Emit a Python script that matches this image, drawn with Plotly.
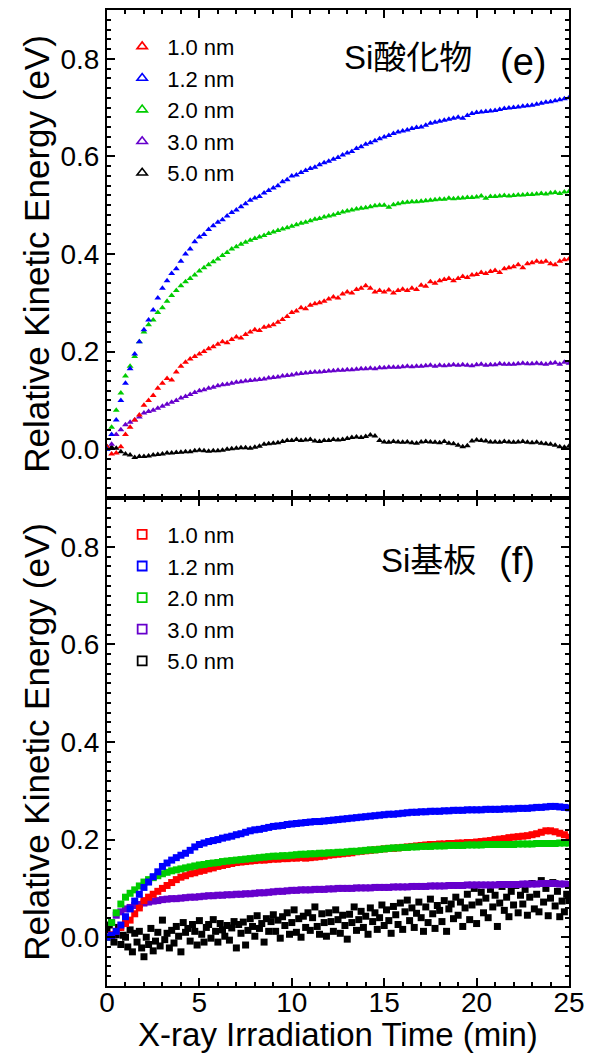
import numpy as np
import plotly.graph_objects as go
from plotly.subplots import make_subplots

# ---------------- data ----------------
labels = ["1.0 nm", "1.2 nm", "2.0 nm", "3.0 nm", "5.0 nm"]
colors = ["#ff0000", "#0000ff", "#00cc00", "#6600cc", "#000000"]

# acquisition grid (min)
time_grid = np.arange(0, 25.001, 0.25)
time_grid_fine = np.arange(0, 25.001, 0.125)

# ---- (e) Si oxide ----
ox_10 = [0.005, -0.01, -0.008, 0.005, 0.03, 0.045, 0.06, 0.07, 0.09, 0.1, 0.11, 0.125,
         0.135, 0.145, 0.142, 0.158, 0.17, 0.178, 0.185, 0.19, 0.195, 0.2, 0.206, 0.21,
         0.215, 0.22, 0.218, 0.225, 0.23, 0.228, 0.235, 0.24, 0.245, 0.243, 0.25, 0.252,
         0.255, 0.26, 0.266, 0.272, 0.28, 0.283, 0.29, 0.288, 0.295, 0.298, 0.3, 0.303,
         0.308, 0.312, 0.31, 0.318, 0.322, 0.32, 0.327, 0.33, 0.335, 0.33, 0.322, 0.325,
         0.322, 0.326, 0.32, 0.325, 0.328, 0.325, 0.33, 0.327, 0.336, 0.334, 0.343, 0.34,
         0.345, 0.348, 0.35, 0.345, 0.35, 0.354, 0.352, 0.357, 0.358, 0.362, 0.36, 0.364,
         0.366, 0.362, 0.37, 0.372, 0.374, 0.378, 0.372, 0.38, 0.382, 0.385, 0.383, 0.385,
         0.38, 0.378, 0.385, 0.388, 0.39]
ox_12 = [0.0, 0.03, 0.06, 0.10, 0.135, 0.165, 0.195, 0.22, 0.245, 0.265, 0.285, 0.31,
         0.33, 0.345, 0.36, 0.37, 0.385, 0.40, 0.41, 0.425, 0.435, 0.44, 0.45, 0.458,
         0.465, 0.47, 0.478, 0.485, 0.49, 0.497, 0.503, 0.51, 0.515, 0.518, 0.525, 0.53,
         0.535, 0.54, 0.548, 0.552, 0.56, 0.562, 0.567, 0.571, 0.575, 0.578, 0.583, 0.587,
         0.59, 0.594, 0.598, 0.603, 0.607, 0.61, 0.616, 0.62, 0.625, 0.628, 0.632, 0.636,
         0.64, 0.643, 0.647, 0.65, 0.652, 0.654, 0.657, 0.659, 0.66, 0.664, 0.668, 0.67,
         0.672, 0.674, 0.676, 0.678, 0.68, 0.678, 0.684, 0.688, 0.69, 0.691, 0.692, 0.693,
         0.694, 0.696, 0.698, 0.699, 0.70, 0.701, 0.703, 0.704, 0.705, 0.707, 0.709, 0.711,
         0.712, 0.714, 0.716, 0.718, 0.72]
ox_20 = [0.0, 0.045, 0.08, 0.115, 0.15, 0.17, 0.19, 0.22, 0.24, 0.255, 0.265, 0.28,
         0.29, 0.303, 0.315, 0.325, 0.335, 0.343, 0.35, 0.357, 0.365, 0.372, 0.378, 0.384,
         0.39, 0.397, 0.403, 0.41, 0.415, 0.42, 0.424, 0.428, 0.432, 0.435, 0.438, 0.442,
         0.445, 0.448, 0.451, 0.454, 0.457, 0.46, 0.463, 0.465, 0.468, 0.471, 0.473, 0.476,
         0.478, 0.48, 0.483, 0.486, 0.488, 0.49, 0.492, 0.494, 0.495, 0.497, 0.499, 0.5,
         0.50, 0.496, 0.501, 0.503, 0.505, 0.506, 0.507, 0.507, 0.508, 0.509, 0.51, 0.511,
         0.512, 0.512, 0.514, 0.513, 0.514, 0.515, 0.516, 0.516, 0.517, 0.519, 0.514, 0.518,
         0.518, 0.519, 0.52, 0.519, 0.52, 0.521, 0.521, 0.522, 0.522, 0.523, 0.524, 0.523,
         0.525, 0.526, 0.524, 0.527, 0.528]
ox_30 = [0.0, 0.01, 0.03, 0.04, 0.05, 0.055, 0.06, 0.066, 0.074, 0.077, 0.08, 0.084,
         0.088, 0.092, 0.096, 0.1, 0.105, 0.108, 0.112, 0.116, 0.12, 0.122, 0.125, 0.127,
         0.13, 0.132, 0.133, 0.135, 0.137, 0.138, 0.14, 0.141, 0.142, 0.143, 0.144, 0.146,
         0.147, 0.148, 0.15, 0.151, 0.152, 0.154, 0.155, 0.156, 0.157, 0.158, 0.158, 0.159,
         0.16, 0.161, 0.162, 0.162, 0.163, 0.163, 0.164, 0.165, 0.165, 0.166, 0.165, 0.167,
         0.167, 0.168, 0.168, 0.168, 0.169, 0.17, 0.169, 0.17, 0.17, 0.171, 0.172, 0.17,
         0.172, 0.171, 0.172, 0.173, 0.172, 0.173, 0.172, 0.171, 0.173, 0.174, 0.172, 0.173,
         0.173, 0.175, 0.174, 0.174, 0.174, 0.175, 0.176, 0.175, 0.175, 0.176, 0.175, 0.174,
         0.176, 0.177, 0.174, 0.178, 0.176]
ox_50 = [0.005, 0.004, 0.002, -0.005, -0.01, -0.012, -0.017, -0.015, -0.015, -0.014, -0.012, -0.011,
         -0.01, -0.008, -0.008, -0.007, -0.006, -0.005, -0.005, -0.003, -0.002, -0.003, -0.004, -0.003,
         -0.003, -0.002, 0.0, 0.001, 0.002, 0.003, 0.003, 0.002, 0.004, 0.006, 0.01, 0.011,
         0.012, 0.013, 0.016, 0.018, 0.018, 0.02, 0.018, 0.019, 0.02, 0.017, 0.016, 0.018,
         0.018, 0.02, 0.019, 0.02, 0.022, 0.024, 0.025, 0.024, 0.026, 0.029, 0.027, 0.018,
         0.015, 0.014, 0.016, 0.015, 0.014, 0.015, 0.013, 0.012, 0.015, 0.016, 0.015, 0.014,
         0.013, 0.016, 0.012, 0.011, 0.008, 0.005, 0.007, 0.017, 0.019, 0.018, 0.017, 0.015,
         0.015, 0.014, 0.016, 0.015, 0.014, 0.015, 0.016, 0.014, 0.013, 0.014, 0.012, 0.011,
         0.01, 0.008, 0.005, 0.004, 0.006]

# ---- (f) Si substrate ----
sub_10 = [0.0, 0.005, 0.012, 0.02, 0.028, 0.035, 0.048, 0.06, 0.075, 0.082, 0.088, 0.094,
          0.1, 0.106, 0.112, 0.118, 0.123, 0.126, 0.13, 0.132, 0.135, 0.137, 0.14, 0.142,
          0.145, 0.147, 0.149, 0.151, 0.153, 0.154, 0.155, 0.156, 0.157, 0.158, 0.158, 0.159,
          0.16, 0.16, 0.161, 0.161, 0.162, 0.162, 0.163, 0.162, 0.163, 0.164, 0.165, 0.166,
          0.168, 0.169, 0.17, 0.171, 0.172, 0.173, 0.175, 0.176, 0.177, 0.178, 0.179, 0.18,
          0.181, 0.182, 0.182, 0.183, 0.184, 0.185, 0.186, 0.187, 0.188, 0.189, 0.19, 0.19,
          0.191, 0.191, 0.192, 0.192, 0.193, 0.193, 0.194, 0.194, 0.195, 0.196, 0.197, 0.198,
          0.2, 0.201, 0.202, 0.204, 0.205, 0.206, 0.207, 0.208, 0.21, 0.212, 0.215, 0.218,
          0.218, 0.216, 0.213, 0.21, 0.205]
sub_12 = [0.0, 0.004, 0.012, 0.025, 0.042, 0.058, 0.074, 0.088, 0.102, 0.113, 0.124, 0.134,
          0.145, 0.152, 0.158, 0.163, 0.168, 0.172, 0.178, 0.185, 0.19, 0.193, 0.196, 0.198,
          0.2, 0.203, 0.205, 0.207, 0.21, 0.212, 0.215, 0.218, 0.22, 0.221, 0.223, 0.225,
          0.227, 0.228, 0.229, 0.231, 0.232, 0.233, 0.234, 0.235, 0.236, 0.237, 0.237, 0.238,
          0.239, 0.24, 0.241, 0.242, 0.243, 0.244, 0.245, 0.246, 0.247, 0.248, 0.249, 0.25,
          0.251, 0.252, 0.252, 0.253, 0.254, 0.255, 0.256, 0.256, 0.257, 0.257, 0.258, 0.258,
          0.258, 0.259, 0.259, 0.26, 0.26, 0.26, 0.261, 0.261, 0.261, 0.261, 0.262, 0.262,
          0.262, 0.262, 0.263, 0.263, 0.263, 0.264, 0.264, 0.264, 0.265, 0.266, 0.266, 0.267,
          0.268, 0.268, 0.267, 0.266, 0.265]
sub_20 = [0.0, 0.03, 0.05, 0.068, 0.082, 0.09, 0.097, 0.105, 0.113, 0.118, 0.122, 0.126,
          0.13, 0.133, 0.136, 0.138, 0.14, 0.142, 0.144, 0.146, 0.148, 0.149, 0.151, 0.152,
          0.153, 0.155, 0.156, 0.157, 0.158, 0.159, 0.16, 0.161, 0.162, 0.163, 0.164, 0.165,
          0.166, 0.166, 0.167, 0.167, 0.168, 0.169, 0.17, 0.17, 0.171, 0.171, 0.172, 0.172,
          0.173, 0.173, 0.174, 0.174, 0.175, 0.176, 0.176, 0.177, 0.178, 0.179, 0.179, 0.18,
          0.181, 0.182, 0.183, 0.183, 0.184, 0.184, 0.185, 0.185, 0.186, 0.186, 0.186, 0.187,
          0.187, 0.187, 0.188, 0.188, 0.188, 0.188, 0.189, 0.189, 0.189, 0.189, 0.19, 0.19,
          0.19, 0.19, 0.19, 0.19, 0.19, 0.191, 0.191, 0.191, 0.191, 0.192, 0.192, 0.192,
          0.192, 0.192, 0.193, 0.193, 0.193]
sub_30 = [0.0, 0.03, 0.045, 0.052, 0.058, 0.061, 0.065, 0.067, 0.07, 0.072, 0.074, 0.075,
          0.077, 0.078, 0.079, 0.079, 0.08, 0.081, 0.082, 0.082, 0.083, 0.084, 0.085, 0.085,
          0.086, 0.086, 0.087, 0.087, 0.088, 0.088, 0.089, 0.089, 0.09, 0.091, 0.091, 0.092,
          0.093, 0.094, 0.094, 0.095, 0.096, 0.096, 0.097, 0.097, 0.097, 0.098, 0.098, 0.098,
          0.099, 0.099, 0.1, 0.1, 0.1, 0.1, 0.101, 0.101, 0.101, 0.101, 0.102, 0.102,
          0.102, 0.102, 0.103, 0.103, 0.103, 0.103, 0.104, 0.104, 0.104, 0.104, 0.105, 0.105,
          0.105, 0.105, 0.106, 0.106, 0.106, 0.106, 0.107, 0.107, 0.107, 0.107, 0.107, 0.107,
          0.107, 0.108, 0.108, 0.108, 0.108, 0.108, 0.109, 0.109, 0.109, 0.109, 0.11, 0.11,
          0.11, 0.11, 0.109, 0.109, 0.108]
sub_50 = [0.015, 0.025, 0.0, -0.01, 0.005, 0.02, -0.015, 0.004,
          0.0, -0.02, 0.015, -0.03, 0.008, -0.01, 0.012, -0.022,
          -0.04, 0.0, -0.015, 0.018, -0.028, -0.008, 0.01, -0.018,
          0.035, -0.005, 0.008, -0.022, 0.014, -0.012, 0.022, 0.002,
          -0.03, 0.03, 0.01, 0.018, -0.008, 0.026, 0.012, -0.016,
          0.034, 0.006, -0.01, 0.02, 0.026, -0.002, 0.036, 0.012,
          -0.01, 0.028, 0.015, 0.002, 0.024, -0.006, 0.019, 0.032,
          -0.022, 0.026, 0.008, 0.031, -0.016, 0.014, 0.038, 0.022,
          0.002, 0.044, 0.018, 0.028, -0.01, 0.038, 0.012, 0.032,
          0.046, 0.012, 0.035, -0.002, 0.042, 0.024, 0.05, 0.006,
          0.03, 0.056, 0.01, 0.038, 0.0, 0.043, 0.02, 0.05,
          0.014, 0.04, 0.062, 0.022, 0.006, 0.048, 0.03, 0.002,
          0.05, 0.032, 0.012, 0.056, 0.036, 0.008, 0.045, 0.024,
          -0.004, 0.047, 0.03, 0.062, 0.014, 0.036, 0.053, 0.02,
          0.043, 0.006, 0.06, 0.032, 0.05, 0.016, 0.04, 0.066,
          0.024, 0.056, 0.034, 0.008, 0.063, 0.046, 0.026, 0.07,
          0.016, 0.052, 0.076, 0.034, 0.06, 0.02, 0.049, 0.072,
          0.04, 0.012, 0.062, 0.03, 0.078, 0.048, 0.018, 0.065,
          0.055, 0.032, 0.075, 0.012, 0.058, 0.068, 0.038, 0.082,
          0.045, 0.072, 0.022, 0.06, 0.088, 0.036, 0.066, 0.1,
          0.028, 0.072, 0.092, 0.05, 0.08, 0.04, 0.098, 0.062,
          0.086, 0.022, 0.07, 0.104, 0.055, 0.082, 0.042, 0.094,
          0.066, 0.106, 0.05, 0.086, 0.068, 0.098, 0.045, 0.082,
          0.11, 0.058, 0.088, 0.052, 0.116, 0.072, 0.1, 0.044,
          0.08, 0.112, 0.064, 0.094, 0.042, 0.074, 0.052, 0.088,
          0.075]

oxide_series = [ox_10, ox_12, ox_20, ox_30, ox_50]
substrate_series = [sub_10, sub_12, sub_20, sub_30, sub_50]

x_ticks = [0, 5, 10, 15, 20, 25]
y_ticks = [0.0, 0.2, 0.4, 0.6, 0.8]

# ---------------- figure ----------------
FONT = "Liberation Sans, Arial, Noto Sans CJK JP, sans-serif"

fig = make_subplots(rows=2, cols=1, vertical_spacing=0.0, shared_xaxes=False)

draw_order = [4, 3, 0, 2, 1]
for i in draw_order:
    fig.add_trace(go.Scatter(
        x=time_grid, y=oxide_series[i], mode="markers",
        marker=dict(symbol="triangle-up", size=6, color=colors[i], line=dict(width=0)),
        showlegend=False, hoverinfo="skip"), row=1, col=1)

for i in draw_order:
    tx = time_grid_fine if i == 4 else time_grid
    fig.add_trace(go.Scatter(
        x=tx, y=substrate_series[i], mode="markers",
        marker=dict(symbol="square", size=7, color=colors[i], line=dict(width=0)),
        showlegend=False, hoverinfo="skip"), row=2, col=1)

# legend entries (open symbols, as in the original)
for i in range(5):
    fig.add_trace(go.Scatter(
        x=[None], y=[None], mode="markers", name=labels[i], legend="legend",
        marker=dict(symbol="triangle-up-open", size=9, color=colors[i], line=dict(width=1.6, color=colors[i]))),
        row=1, col=1)
for i in range(5):
    fig.add_trace(go.Scatter(
        x=[None], y=[None], mode="markers", name=labels[i], legend="legend2",
        marker=dict(symbol="square-open", size=9, color=colors[i], line=dict(width=1.8, color=colors[i]))),
        row=2, col=1)

axis_common = dict(
    showline=True, linecolor="black", linewidth=2, mirror="ticks",
    ticks="inside", ticklen=8, tickwidth=2, tickcolor="black",
    showgrid=False, zeroline=False, automargin=False,
    tickfont=dict(family=FONT, size=28, color="black"),
)

xcommon = dict(axis_common, range=[0, 25], tickvals=x_ticks, ticklabelstandoff=-10,
               minor=dict(dtick=1, tick0=0, ticklen=4, tickwidth=1.5, tickcolor="black", ticks="inside", showgrid=False))
ycommon = dict(axis_common, range=[-0.1, 0.9], tickvals=y_ticks, tickformat=".1f",
               ticklabelstandoff=0,
               minor=dict(dtick=0.02, tick0=0, ticklen=4, tickwidth=1.5, tickcolor="black", ticks="inside", showgrid=False),
               title=dict(text="Relative Kinetic Energy (eV)", font=dict(family=FONT, size=35, color="black"), standoff=0))

fig.update_xaxes(xcommon, row=1, col=1, showticklabels=False)
fig.update_xaxes(xcommon, row=2, col=1, showticklabels=True,
                 title=dict(text="X-ray Irradiation Time (min)", font=dict(family=FONT, size=33, color="black"), standoff=6))
fig.update_yaxes(ycommon, row=1, col=1)
fig.update_yaxes(ycommon, row=2, col=1)

legend_common = dict(
    font=dict(family=FONT, size=22, color="black"),
    bgcolor="rgba(0,0,0,0)", borderwidth=0,
    xanchor="left", yanchor="top", itemsizing="trace", tracegroupgap=0,
    itemwidth=40,
)
fig.update_layout(
    legend=dict(legend_common, x=0.022, y=0.984),
    legend2=dict(legend_common, x=0.022, y=0.484),
)

ann_common = dict(xref="paper", yref="paper", xanchor="center", yanchor="middle", showarrow=False)
fig.add_annotation(ann_common, text="Si酸化物", x=0.652, y=0.951,
                   font=dict(family=FONT, size=33, color="black"))
fig.add_annotation(ann_common, text="(e)", x=0.900, y=0.947,
                   font=dict(family=FONT, size=38, color="black"))
fig.add_annotation(ann_common, text="Si基板", x=0.695, y=0.436,
                   font=dict(family=FONT, size=33, color="black"))
fig.add_annotation(ann_common, text="(f)", x=0.887, y=0.435,
                   font=dict(family=FONT, size=38, color="black"))

fig.update_layout(
    width=589, height=1053,
    margin=dict(l=107, r=20, t=10, b=67),
    paper_bgcolor="white", plot_bgcolor="white",
    font=dict(family=FONT, color="black"),
)

fig.write_html("out.html")
